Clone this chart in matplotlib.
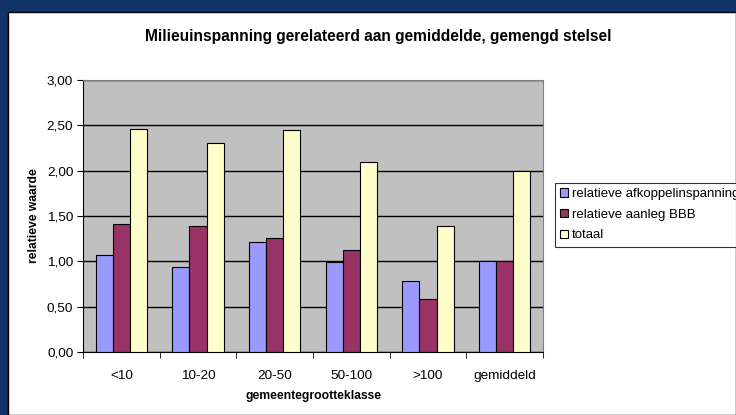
import matplotlib.pyplot as plt
import matplotlib.patches as mpatches
import numpy as np

plt.rcParams["font.family"] = ["Liberation Sans", "DejaVu Sans"]

# data
categories = ["<10", "10-20", "20-50", "50-100", ">100", "gemiddeld"]
afkoppel = [1.07, 0.94, 1.21, 0.99, 0.78, 1.00]
aanleg_bbb = [1.41, 1.385, 1.255, 1.13, 0.59, 1.00]
totaal = [2.46, 2.31, 2.45, 2.10, 1.385, 2.00]
series_names = ["relatieve afkoppelinspanning", "relatieve aanleg BBB", "totaal"]
colors = ["#9999FF", "#993366", "#FFFFCC"]

W, H = 736, 415
fig = plt.figure(figsize=(W / 100, H / 100), dpi=100)
fig.patch.set_facecolor("#113468")

# white chart panel on the slide background
panel = mpatches.Rectangle((8 / W, 0), 1 - 8 / W, 1 - 12 / H,
                           transform=fig.transFigure, facecolor="white",
                           edgecolor="black", linewidth=1, zorder=-10)
fig.patches.append(panel)

# plot area
x0, x1, y0, y1 = 83, 543, 80, 352
ax = fig.add_axes([x0 / W, 1 - y1 / H, (x1 - x0) / W, (y1 - y0) / H])
ax.set_facecolor("#C0C0C0")

x = np.arange(len(categories))
bw = 0.222
for i, (vals, name, c) in enumerate(zip([afkoppel, aanleg_bbb, totaal], series_names, colors)):
    ax.bar(x + (i - 1) * bw, vals, width=bw, color=c, edgecolor="black",
           linewidth=0.8, label=name, zorder=3)

ax.set_xlim(-0.5, len(categories) - 0.5)
ax.set_ylim(0, 3)
ax.set_yticks(np.arange(0, 3.01, 0.5))
ax.set_yticklabels([f"{v:.2f}".replace(".", ",") for v in np.arange(0, 3.01, 0.5)])
ax.yaxis.grid(True, color="black", linewidth=1, zorder=1)
ax.set_axisbelow(True)

ax.set_xticks(x)
ax.set_xticklabels(categories)
ax.tick_params(axis="x", length=0, pad=13, labelsize=9.7)
ax.set_xticks(np.arange(-0.5, len(categories)), minor=True)
ax.tick_params(axis="x", which="minor", length=4, direction="out", color="black")
ax.tick_params(axis="y", length=4, direction="out", labelsize=9.7, pad=3)

for s in ["top", "right"]:
    ax.spines[s].set_color("#808080")
ax.spines["left"].set_color("black")
ax.spines["bottom"].set_color("black")

ax.set_xlabel("gemeentegrootteklasse", fontsize=8.7, fontweight="bold", labelpad=6)
ax.set_ylabel("relatieve waarde", fontsize=8.7, fontweight="bold", labelpad=5)

fig.text(378 / W, 1 - 36 / H, "Milieuinspanning gerelateerd aan gemiddelde, gemengd stelsel",
         ha="center", va="center", fontsize=11.2, fontweight="bold")

leg = ax.legend(loc="upper left", bbox_to_anchor=((555 - x0) / (x1 - x0), (y1 - 183) / (y1 - y0)),
                fontsize=9.5, frameon=True, fancybox=False, borderaxespad=0,
                handlelength=0.6, handleheight=0.6, handletextpad=0.3,
                labelspacing=0.65, borderpad=0.4)
leg.get_frame().set_edgecolor("black")
leg.get_frame().set_linewidth(0.8)

fig.savefig("out.png", dpi=100, facecolor=fig.get_facecolor())
